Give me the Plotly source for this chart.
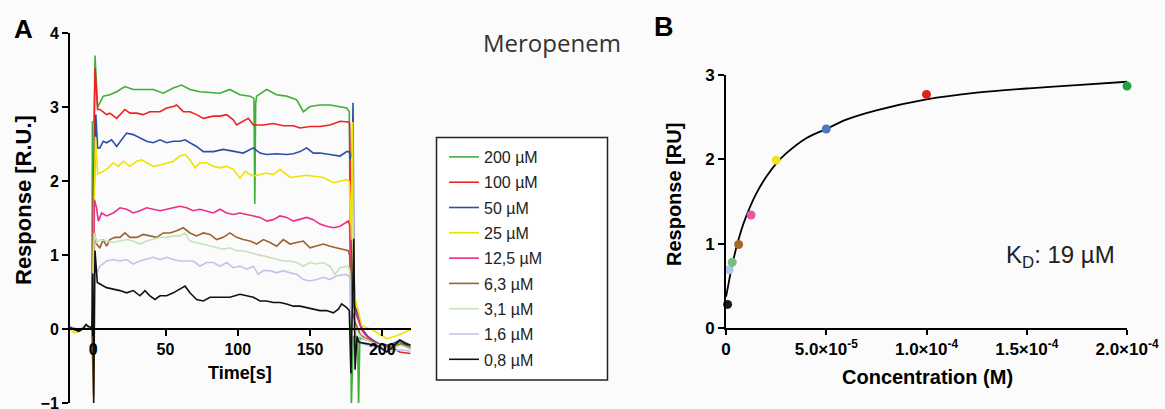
import plotly.graph_objects as go

W, H = 1165, 409

# ---------------- Panel A: sensorgrams (time [s], response [R.U.]) ----------------
labels_A = ["200 µM", "100 µM", "50 µM", "25 µM", "12,5 µM", "6,3 µM", "3,1 µM", "1,6 µM", "0,8 µM"]
colors_A = ["#3fae3a", "#ee2222", "#2b4fa6", "#f2e200", "#ec2f86", "#9c6428", "#c6e2bf", "#c3c3e8", "#111111"]

t_200 = [-16, -13, -10, -7, -5, -3, -1, -0.6, 0.6, 1.2, 3.0, 6.9, 11.5, 16.2, 21.9, 27.7, 34.6, 41.5, 48.5, 55.4,
         61.2, 66.9, 73.8, 80.8, 87.7, 94.6, 101.5, 108.5, 111.2, 111.8, 112.4, 113.1, 120.0, 126.9, 133.8,
         140.8, 145.4, 150.0, 156.9, 163.8, 168.5, 175.4, 177.2, 178.6, 180.0, 183.0, 183.6, 184.5, 190, 198,
         205, 212, 219.5]
r_200 = [0.03, 0.0, -0.02, 0.02, 0.06, 0.03, 0.0, 2.8, 2.8, 3.7, 3.0, 3.15, 3.17, 3.21, 3.28, 3.24, 3.24, 3.24,
         3.19, 3.26, 3.30, 3.24, 3.21, 3.20, 3.19, 3.24, 3.17, 3.15, 3.12, 1.69, 3.05, 3.15, 3.24, 3.17, 3.15,
         3.10, 2.94, 3.01, 3.03, 3.03, 3.01, 2.99, 2.94, -1.05, -0.1, -0.1, -1.05, -0.12, -0.15, -0.22, -0.25,
         -0.18, -0.25]

t_100 = [-16, -13, -10, -7, -5, -3, -1, 0.3, 1.2, 3.0, 4.6, 9.2, 11.5, 16.2, 21.9, 25.4, 30.0, 34.6, 39.2, 46.2,
         50.8, 55.4, 57.7, 62.3, 66.9, 71.5, 76.2, 83.1, 87.7, 92.3, 96.9, 99.2, 103.8, 107.3, 110.8, 117.7,
         124.6, 131.5, 138.5, 143.1, 150.0, 156.9, 163.8, 170.8, 176.5, 177.4, 178.2, 179.0, 180.5, 182.5,
         186, 190, 198, 207, 212, 219.5]
r_100 = [0.02, 0.01, -0.03, 0.01, 0.05, 0.02, 0.01, 1.75, 3.53, 2.97, 2.97, 2.90, 2.92, 2.85, 2.97, 2.92, 2.92,
         2.90, 2.94, 2.94, 2.99, 3.01, 3.03, 2.94, 2.94, 2.90, 2.85, 2.88, 2.88, 2.90, 2.83, 2.76, 2.81, 2.85,
         2.76, 2.76, 2.78, 2.75, 2.75, 2.72, 2.74, 2.74, 2.76, 2.81, 2.80, 2.78, 1.5, 0.5, 0.32, 0.25, 0.0,
         -0.1, -0.22, -0.25, -0.31, -0.33]

t_50 = [-16, -13, -10, -7, -5, -3, -1, 0.5, 1.8, 3.0, 4.6, 6.9, 9.2, 12.7, 16.2, 19.6, 23.1, 27.7, 32.3, 36.9,
        41.5, 46.2, 50.8, 55.4, 60.0, 63.5, 66.9, 71.5, 76.2, 83.1, 90.0, 96.9, 103.8, 110.8, 115.4, 120.0,
        126.9, 133.8, 138.5, 143.1, 147.7, 152.3, 156.9, 163.8, 170.8, 175.4, 177.2, 178.0, 179.3, 179.8,
        180.3, 181.0, 183, 186, 190, 198, 205, 212.5, 219.5]
r_50 = [0.02, -0.01, -0.02, 0.02, 0.05, 0.03, 0.0, 1.75, 2.9, 2.45, 2.45, 2.54, 2.52, 2.56, 2.47, 2.56, 2.65,
        2.63, 2.58, 2.54, 2.52, 2.56, 2.52, 2.54, 2.54, 2.56, 2.52, 2.47, 2.40, 2.40, 2.43, 2.40, 2.38, 2.45,
        2.38, 2.36, 2.37, 2.36, 2.37, 2.40, 2.45, 2.38, 2.38, 2.36, 2.34, 2.40, 2.40, 2.3, 2.4, 3.06, 1.0,
        0.3, 0.2, 0.0, -0.11, -0.2, -0.22, -0.15, -0.22]

t_25 = [-16, -13, -10, -7, -5, -3, -1, 0.5, 1.5, 3.0, 6.9, 10.4, 13.8, 17.3, 20.8, 25.4, 30.0, 33.5, 36.9, 41.5,
        46.2, 50.8, 55.4, 60.0, 63.5, 66.9, 70.4, 73.8, 78.5, 83.1, 87.7, 92.3, 96.9, 101.6, 105.0, 110.8,
        120.0, 124.6, 129.3, 136.2, 147.7, 159.2, 166.2, 175.4, 177.2, 178.3, 179.5, 180.2, 182.4, 185.8,
        194, 203, 210, 219.5]
r_25 = [0.0, -0.05, -0.03, 0.0, 0.06, 0.02, -0.02, 1.6, 2.6, 2.1, 2.13, 2.18, 2.25, 2.20, 2.27, 2.20, 2.27, 2.29,
        2.25, 2.20, 2.22, 2.25, 2.27, 2.34, 2.36, 2.29, 2.18, 2.25, 2.25, 2.20, 2.18, 2.20, 2.16, 2.04, 2.13,
        2.07, 2.11, 2.09, 2.16, 2.05, 2.08, 2.05, 1.98, 2.02, 2.0, 1.2, 2.8, 0.5, 0.31, 0.05, -0.02, -0.13,
        -0.09, -0.01]

t_12 = [-16, -13, -10, -7, -5, -3, -1, 0.5, 0.8, 2.3, 3.5, 5.8, 9.2, 13.8, 18.5, 23.1, 27.7, 32.3, 36.9, 41.5,
        46.2, 50.8, 55.4, 60.0, 64.6, 69.2, 73.8, 78.5, 83.1, 87.7, 92.3, 96.9, 101.5, 106.2, 110.8, 115.4,
        120.0, 124.6, 129.2, 133.8, 138.5, 143.1, 147.7, 152.3, 156.9, 161.5, 166.2, 170.8, 176.5, 177.4,
        178.5, 181, 186, 190, 198, 207, 213, 219.5]
r_12 = [0.03, 0.0, -0.02, 0.02, 0.05, 0.03, 0.01, 1.0, 1.75, 1.64, 1.46, 1.57, 1.53, 1.57, 1.64, 1.62, 1.57,
        1.60, 1.64, 1.62, 1.60, 1.62, 1.64, 1.66, 1.64, 1.60, 1.62, 1.60, 1.57, 1.62, 1.57, 1.55, 1.57, 1.55,
        1.53, 1.51, 1.46, 1.48, 1.53, 1.51, 1.46, 1.48, 1.51, 1.48, 1.42, 1.39, 1.37, 1.39, 1.46, 1.40, 0.5,
        0.25, -0.02, -0.12, -0.22, -0.27, -0.2, -0.27]

t_6 = [-16, -13, -10, -7, -5, -3, -1, 0.2, 0.8, 2.3, 4.6, 6.9, 9.2, 11.5, 15.0, 18.5, 21.9, 25.4, 30.0, 34.6,
       39.2, 43.8, 48.5, 53.1, 57.7, 62.3, 66.9, 71.5, 76.2, 80.8, 85.4, 90.0, 94.6, 99.2, 103.8, 108.5, 113.1,
       117.7, 122.3, 126.9, 131.5, 136.2, 140.8, 145.4, 150.0, 154.6, 159.2, 163.8, 168.5, 173.1, 176.5,
       177.4, 178.5, 181, 185, 190, 198, 207, 213, 219.5]
r_6 = [0.02, 0.01, -0.03, 0.01, 0.05, 0.02, 0.0, -0.9, 1.3, 1.15, 1.10, 1.21, 1.12, 1.21, 1.24, 1.24, 1.30, 1.24,
       1.24, 1.28, 1.26, 1.24, 1.30, 1.30, 1.33, 1.37, 1.30, 1.26, 1.30, 1.28, 1.21, 1.24, 1.30, 1.24, 1.21,
       1.19, 1.15, 1.21, 1.17, 1.12, 1.21, 1.15, 1.17, 1.19, 1.10, 1.12, 1.15, 1.12, 1.10, 1.08, 1.06, 1.0,
       0.3, 0.1, -0.08, -0.15, -0.2, -0.25, -0.2, -0.25]

t_3 = [-16, -13, -10, -7, -5, -3, -1, 0.7, 2.3, 4.6, 9.2, 13.8, 18.5, 23.1, 27.7, 32.3, 36.9, 41.5, 46.2, 50.8,
       55.4, 60.0, 63.5, 66.9, 71.5, 76.2, 80.8, 85.4, 90.0, 94.6, 99.2, 103.8, 108.5, 113.1, 117.7, 122.3,
       126.9, 131.5, 136.2, 140.8, 145.4, 150.0, 154.6, 159.2, 163.8, 167.3, 170.8, 176.5, 177.4, 178.5, 181,
       186, 195, 205, 213, 219.5]
r_3 = [0.03, 0.0, -0.01, 0.02, 0.05, 0.03, 0.01, 1.3, 1.17, 1.21, 1.19, 1.17, 1.19, 1.21, 1.19, 1.15, 1.19,
       1.21, 1.24, 1.24, 1.26, 1.26, 1.30, 1.19, 1.17, 1.15, 1.12, 1.10, 1.08, 1.10, 1.06, 1.06, 1.03, 1.01,
       0.99, 0.97, 0.94, 0.92, 0.92, 0.90, 0.85, 0.90, 0.88, 0.90, 0.85, 0.74, 0.83, 0.85, 0.80, 0.2, 0.0,
       -0.12, -0.2, -0.27, -0.22, -0.27]

t_1 = [-16, -13, -10, -7, -5, -3, -1, 0.7, 2.3, 4.6, 9.2, 13.8, 18.5, 23.1, 27.7, 32.3, 36.9, 41.5, 46.2, 50.8,
       55.4, 60.0, 64.6, 69.2, 73.8, 78.5, 83.1, 87.7, 92.3, 96.9, 101.5, 106.2, 110.8, 114.2, 117.7, 122.3,
       126.9, 131.5, 136.2, 140.8, 145.4, 150.0, 154.6, 159.2, 163.8, 168.5, 175.4, 177.4, 178.5, 181, 186,
       195, 205, 213, 219.5]
r_1 = [0.04, 0.01, -0.02, 0.02, 0.04, 0.02, 0.0, 1.0, 0.76, 0.85, 0.92, 0.94, 0.92, 0.94, 0.88, 0.92, 0.94,
       0.97, 0.94, 0.97, 0.94, 0.92, 0.92, 0.92, 0.85, 0.90, 0.90, 0.85, 0.90, 0.83, 0.85, 0.81, 0.85, 0.74,
       0.79, 0.79, 0.76, 0.79, 0.76, 0.74, 0.67, 0.65, 0.67, 0.70, 0.67, 0.72, 0.74, 0.70, 0.1, -0.05, -0.2,
       -0.25, -0.3, -0.28, -0.3]

t_08 = [-16, -13, -10, -7, -5, -3, -1, -0.3, 0.3, 1.2, 2.8, 4.6, 6.9, 9.2, 13.8, 18.5, 23.1, 27.7, 32.3, 35.8,
        39.2, 42.7, 46.2, 50.8, 55.4, 60.0, 63.5, 66.9, 71.5, 76.2, 80.8, 87.7, 94.6, 101.5, 106.2, 110.8,
        115.4, 120.0, 124.6, 129.2, 133.8, 138.5, 143.1, 147.7, 152.3, 156.9, 161.5, 166.2, 169.6, 171.9,
        175.4, 177.2, 178.3, 180.3, 181.2, 182.5, 184, 190, 198, 203, 207, 212, 216, 219.5]
r_08 = [0.02, -0.01, -0.03, 0.01, 0.06, 0.03, 0.02, 0.75, -1.0, 1.06, 0.63, 0.61, 0.58, 0.56, 0.54, 0.52, 0.49,
        0.52, 0.45, 0.52, 0.45, 0.40, 0.45, 0.45, 0.49, 0.54, 0.58, 0.49, 0.40, 0.38, 0.43, 0.43, 0.43, 0.47,
        0.45, 0.43, 0.38, 0.38, 0.36, 0.36, 0.34, 0.31, 0.31, 0.29, 0.27, 0.25, 0.25, 0.22, 0.27, 0.34, 0.29,
        0.25, -0.6, 1.22, -0.55, -0.1, -0.18, -0.2, -0.24, -0.31, -0.25, -0.15, -0.2, -0.22]

times_A = [t_200, t_100, t_50, t_25, t_12, t_6, t_3, t_1, t_08]
resp_A = [r_200, r_100, r_50, r_25, r_12, r_6, r_3, r_1, r_08]

xticks_A = [0, 50, 100, 150, 200]
yticks_A = [-1, 0, 1, 2, 3, 4]

# ---------------- Panel B: steady-state affinity ----------------
conc_B = [0.8e-6, 1.6e-6, 3.1e-6, 6.3e-6, 12.5e-6, 25e-6, 50e-6, 100e-6, 200e-6]
resp_B = [0.28, 0.69, 0.78, 0.99, 1.34, 1.99, 2.36, 2.77, 2.87]
colors_B = ["#1a1a1a", "#a9c6ea", "#72c07e", "#a5692c", "#e8589e", "#f2e41a", "#4d78c2", "#dd2222", "#21a045"]

fit_x = [0, 1e-6, 2e-6, 3.5e-6, 5e-6, 7.5e-6, 1e-5, 1.5e-5, 2e-5, 2.5e-5, 3e-5, 4e-5, 5e-5, 6e-5, 7.5e-5,
         1e-4, 1.25e-4, 1.5e-4, 1.75e-4, 2e-4]
fit_y = [0.37, 0.49, 0.62, 0.79, 0.94, 1.15, 1.32, 1.59, 1.79, 1.95, 2.07, 2.25, 2.36, 2.47, 2.58, 2.71, 2.79,
         2.84, 2.88, 2.92]

xtickvals_B = [0, 5e-5, 1e-4, 1.5e-4, 2e-4]
xticktext_B = ["0", "5.0×10<sup>-5</sup>", "1.0×10<sup>-4</sup>", "1.5×10<sup>-4</sup>", "2.0×10<sup>-4</sup>"]
yticks_B = [0, 1, 2, 3]


def px(x):
    return x / W


def py(y):
    return 1 - y / H


BOLD = "Liberation Sans, Arial, sans-serif"

fig = go.Figure()

for lab, col, tt, rr in zip(labels_A, colors_A, times_A, resp_A):
    fig.add_trace(go.Scatter(x=tt, y=rr, mode="lines", name=lab, legendgroup=lab,
                             line=dict(color=col, width=1.6), xaxis="x", yaxis="y"))

fig.add_trace(go.Scatter(x=fit_x, y=fit_y, mode="lines", line=dict(color="black", width=1.8, shape="spline"),
                         showlegend=False, xaxis="x2", yaxis="y2"))
fig.add_trace(go.Scatter(x=conc_B, y=resp_B, mode="markers", marker=dict(color=colors_B, size=9),
                         showlegend=False, cliponaxis=False, xaxis="x2", yaxis="y2"))

yA0, yA1 = py(403), py(33.3)
zero_pos = yA0 + (0 - (-1)) / 5 * (yA1 - yA0)


def axis_style(size, ticklen=6):
    return dict(showgrid=False, zeroline=False, showline=True, linecolor="black", linewidth=2,
                ticks="outside", tickcolor="black", tickwidth=2, ticklen=ticklen, automargin=False,
                ticklabeloverflow="allow",
                tickfont=dict(family=BOLD, size=size, color="black", weight="bold"))


fig.update_layout(
    width=W, height=H,
    margin=dict(l=0, r=0, t=0, b=0),
    paper_bgcolor="#fbfbfb", plot_bgcolor="rgba(0,0,0,0)",
    xaxis=dict(domain=[px(70), px(411)], range=[-16.1, 219.9], anchor="free", position=zero_pos,
               tickvals=xticks_A, **axis_style(16)),
    yaxis=dict(domain=[yA0, yA1], range=[-1, 4], anchor="x", tickvals=yticks_A, **axis_style(16)),
    xaxis2=dict(domain=[px(726), px(1127)], range=[0, 2e-4], anchor="y2", tickvals=xtickvals_B,
                ticktext=xticktext_B, **axis_style(17, ticklen=5)),
    yaxis2=dict(domain=[py(328), py(75)], range=[0, 3], anchor="x2", tickvals=yticks_B, **axis_style(17)),
    legend=dict(x=px(444), y=py(140), xanchor="left", yanchor="top", bgcolor="rgba(0,0,0,0)",
                borderwidth=0, font=dict(family="Liberation Sans, Arial, sans-serif", size=16, color="#222"),
                tracegroupgap=1.5, itemwidth=30),
    showlegend=True,
    shapes=[dict(type="rect", xref="paper", yref="paper", x0=px(436.5), x1=px(607.5), y0=py(380),
                 y1=py(137.5), line=dict(color="#222", width=1.5), fillcolor="white", layer="below")],
)

ann = [
    dict(text="<b>A</b>", x=px(23), y=py(29), size=26, angle=0, fam=BOLD, color="black"),
    dict(text="<b>B</b>", x=px(664), y=py(27), size=27, angle=0, fam=BOLD, color="black"),
    dict(text="Meropenem", x=px(552), y=py(42), size=24, angle=0, fam="Open Sans, sans-serif", color="#333"),
    dict(text="<b>Time[s]</b>", x=px(240), y=py(373), size=18, angle=0, fam=BOLD, color="black"),
    dict(text="<b>Response [R.U.]</b>", x=px(23), y=py(200), size=22, angle=-90, fam=BOLD, color="black"),
    dict(text="<b>Response [RU]</b>", x=px(674), y=py(195), size=20, angle=-90, fam=BOLD, color="black"),
    dict(text="<b>Concentration (M)</b>", x=px(927), y=py(377), size=20, angle=0, fam=BOLD, color="black"),
    dict(text="K<sub>D</sub>: 19 µM", x=px(1060), y=py(256), size=24, angle=0,
         fam="Liberation Sans, Arial, sans-serif", color="#222"),
]
for a in ann:
    fig.add_annotation(text=a["text"], x=a["x"], y=a["y"], xref="paper", yref="paper", showarrow=False,
                       textangle=a["angle"], xanchor="center", yanchor="middle",
                       font=dict(family=a["fam"], size=a["size"], color=a["color"]))

fig.write_html("out.html", config={"displayModeBar": False},
               post_script="document.body.style.margin='0px';")
